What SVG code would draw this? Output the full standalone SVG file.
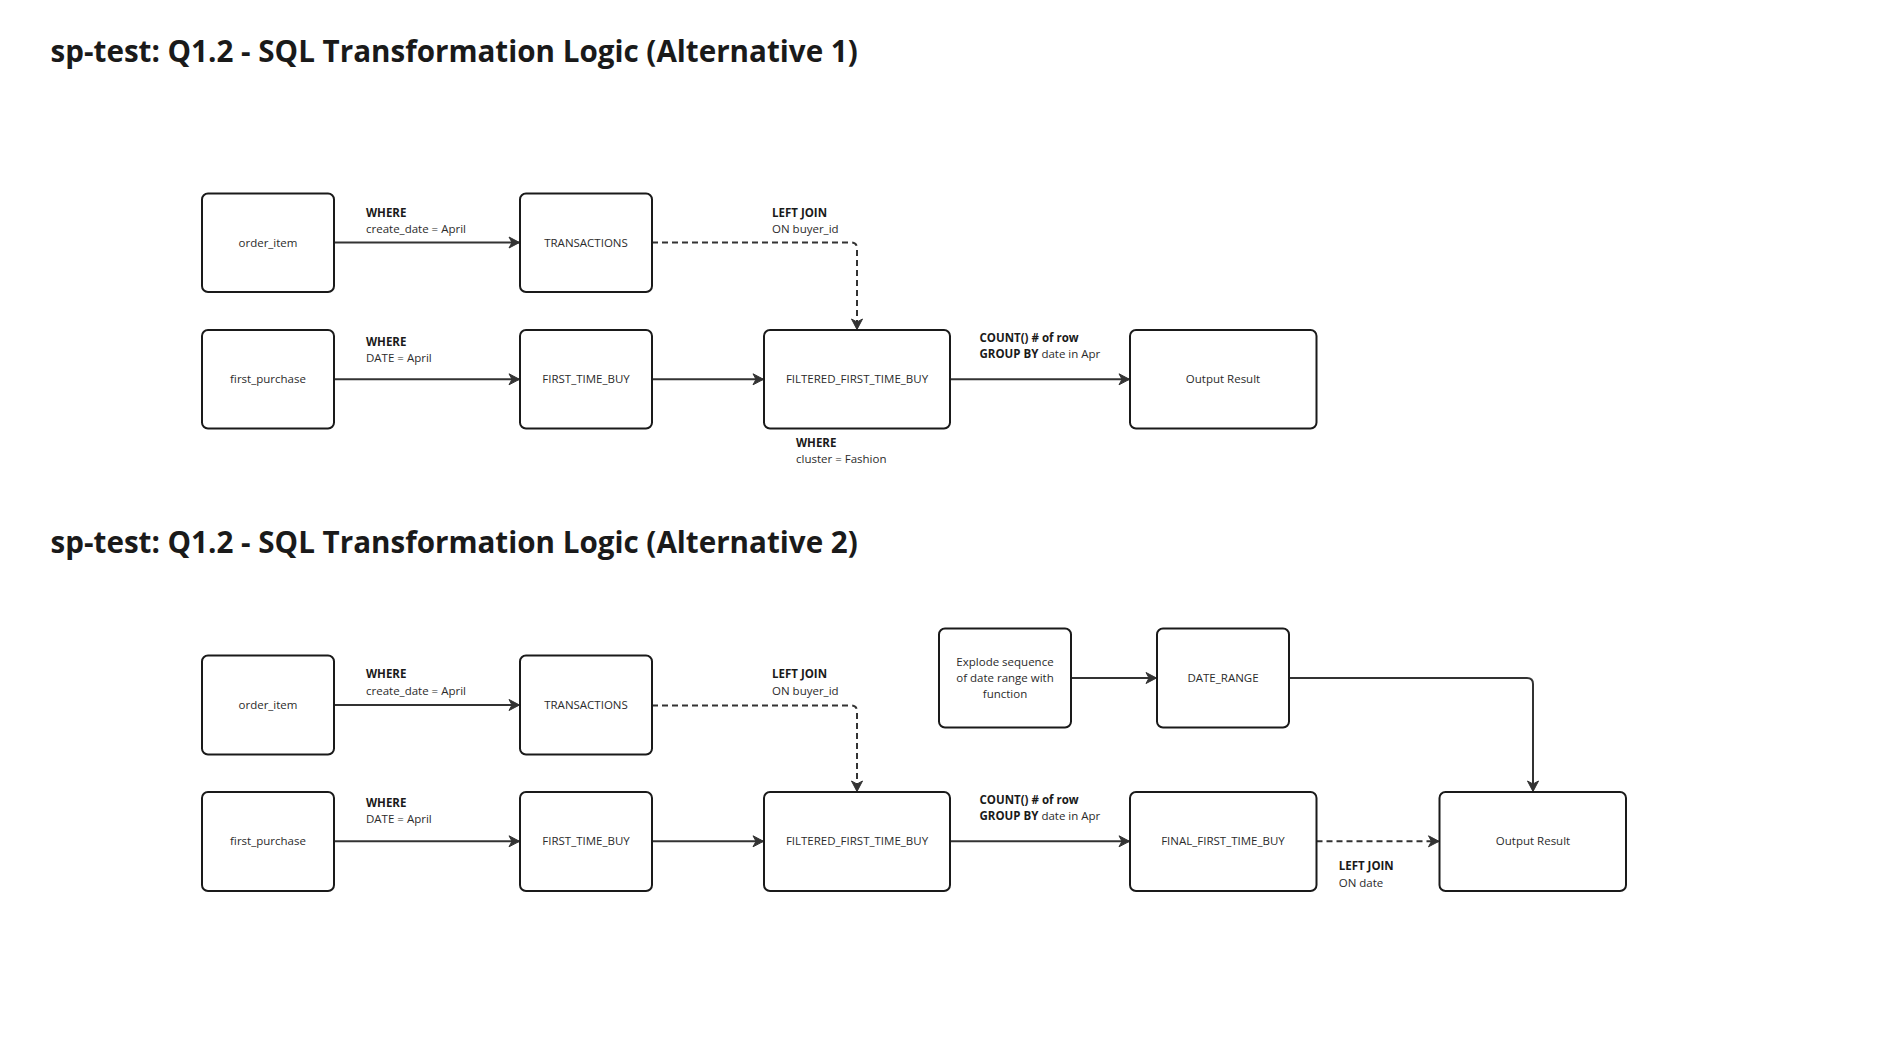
<svg xmlns="http://www.w3.org/2000/svg" width="1888" height="1061" viewBox="0 0 1888 1061">
<style>
.title{font-family:"Open Sans","Noto Sans",sans-serif;font-weight:700;font-size:29.6px;fill:#1a1a1a}
.box{fill:#ffffff;stroke:#1a1a1a;stroke-width:2}
.nt{font-family:"Open Sans","Noto Sans",sans-serif;font-size:11.5px;fill:#2b2b2b;text-anchor:middle}
.lb{font-family:"Open Sans","Noto Sans",sans-serif;font-size:11.5px;fill:#2b2b2b}
.b{font-weight:700;fill:#1a1a1a}
.c{fill:none;stroke:#333333;stroke-width:2}
.d{stroke-dasharray:6 4}
</style>
<defs>
<marker id="ah" markerUnits="userSpaceOnUse" markerWidth="14" markerHeight="14" viewBox="0 0 14 14" refX="12" refY="7" orient="auto">
<path d="M2,1.5 L12.5,7 L2,12.5 L5,7 z" fill="#333333" stroke="#333333" stroke-width="1" stroke-linejoin="round"/>
</marker>
</defs>
<rect width="1888" height="1061" fill="#ffffff"/>
<text class="title" x="50.6" y="61.7">sp-test: Q1.2 - SQL Transformation Logic (Alternative 1)</text>
<text class="title" x="50.6" y="553">sp-test: Q1.2 - SQL Transformation Logic (Alternative 2)</text>

<g id="connectors">
<path class="c" d="M334,242.5 H519" marker-end="url(#ah)"/>
<path class="c" d="M334,379.3 H519" marker-end="url(#ah)"/>
<path class="c" d="M652,379.3 H763" marker-end="url(#ah)"/>
<path class="c" d="M950,379.3 H1129" marker-end="url(#ah)"/>
<path class="c d" d="M652,242.5 H851 Q857,242.5 857,248.5 V329" marker-end="url(#ah)"/>

<path class="c" d="M334,705 H519" marker-end="url(#ah)"/>
<path class="c" d="M334,841.3 H519" marker-end="url(#ah)"/>
<path class="c" d="M652,841.3 H763" marker-end="url(#ah)"/>
<path class="c" d="M950,841.3 H1129" marker-end="url(#ah)"/>
<path class="c d" d="M652,705.5 H851 Q857,705.5 857,711.5 V791" marker-end="url(#ah)"/>
<path class="c" d="M1071,678 H1156" marker-end="url(#ah)"/>
<path class="c" d="M1289,678 H1527 Q1533,678 1533,684 V791" marker-end="url(#ah)"/>
<path class="c d" d="M1316.5,841.3 H1438.5" marker-end="url(#ah)"/>
</g>

<g id="n1"><rect class="box" x="202" y="193.5" width="132" height="98.5" rx="6"/><text class="nt" x="268" y="246.5">order_item</text></g>
<g id="n2"><rect class="box" x="520" y="193.5" width="132" height="98.5" rx="6"/><text class="nt" x="586" y="246.5">TRANSACTIONS</text></g>
<g id="n3"><rect class="box" x="202" y="330" width="132" height="98.5" rx="6"/><text class="nt" x="268" y="383.3">first_purchase</text></g>
<g id="n4"><rect class="box" x="520" y="330" width="132" height="98.5" rx="6"/><text class="nt" x="586" y="383.3">FIRST_TIME_BUY</text></g>
<g id="n5"><rect class="box" x="764" y="330" width="186" height="98.5" rx="6"/><text class="nt" x="857" y="383.3">FILTERED_FIRST_TIME_BUY</text></g>
<g id="n6"><rect class="box" x="1130" y="330" width="186.5" height="98.5" rx="6"/><text class="nt" x="1223" y="383.3">Output Result</text></g>

<g id="n7"><rect class="box" x="202" y="655.5" width="132" height="99" rx="6"/><text class="nt" x="268" y="709">order_item</text></g>
<g id="n8"><rect class="box" x="520" y="655.5" width="132" height="99" rx="6"/><text class="nt" x="586" y="709">TRANSACTIONS</text></g>
<g id="n9"><rect class="box" x="202" y="792" width="132" height="99" rx="6"/><text class="nt" x="268" y="845.3">first_purchase</text></g>
<g id="n10"><rect class="box" x="520" y="792" width="132" height="99" rx="6"/><text class="nt" x="586" y="845.3">FIRST_TIME_BUY</text></g>
<g id="n11"><rect class="box" x="764" y="792" width="186" height="99" rx="6"/><text class="nt" x="857" y="845.3">FILTERED_FIRST_TIME_BUY</text></g>
<g id="n12"><rect class="box" x="1130" y="792" width="186.5" height="99" rx="6"/><text class="nt" x="1223" y="845.3">FINAL_FIRST_TIME_BUY</text></g>
<g id="n13"><rect class="box" x="939" y="628.5" width="132" height="99" rx="6"/><text class="nt" x="1005" y="665.7">Explode sequence</text><text class="nt" x="1005" y="681.9">of date range with</text><text class="nt" x="1005" y="698">function</text></g>
<g id="n14"><rect class="box" x="1157" y="628.5" width="132" height="99" rx="6"/><text class="nt" x="1223" y="682">DATE_RANGE</text></g>
<g id="n15"><rect class="box" x="1439.5" y="792" width="186.5" height="99" rx="6"/><text class="nt" x="1533" y="845.3">Output Result</text></g>

<g id="labels">
<text class="lb" x="366" y="216.5"><tspan class="b">WHERE</tspan></text>
<text class="lb" x="366" y="232.5">create_date = April</text>
<text class="lb" x="366" y="345.7"><tspan class="b">WHERE</tspan></text>
<text class="lb" x="366" y="361.7">DATE = April</text>
<text class="lb" x="772" y="216.5"><tspan class="b">LEFT JOIN</tspan></text>
<text class="lb" x="772" y="232.5">ON buyer_id</text>
<text class="lb" x="979.5" y="341.7"><tspan class="b">COUNT() # of row</tspan></text>
<text class="lb" x="979.5" y="357.7"><tspan class="b">GROUP BY</tspan> date in Apr</text>
<text class="lb" x="796" y="446.7"><tspan class="b">WHERE</tspan></text>
<text class="lb" x="796" y="462.7">cluster = Fashion</text>

<text class="lb" x="366" y="678.3"><tspan class="b">WHERE</tspan></text>
<text class="lb" x="366" y="695">create_date = April</text>
<text class="lb" x="366" y="807.3"><tspan class="b">WHERE</tspan></text>
<text class="lb" x="366" y="823.3">DATE = April</text>
<text class="lb" x="772" y="678.3"><tspan class="b">LEFT JOIN</tspan></text>
<text class="lb" x="772" y="695">ON buyer_id</text>
<text class="lb" x="979.5" y="804"><tspan class="b">COUNT() # of row</tspan></text>
<text class="lb" x="979.5" y="820"><tspan class="b">GROUP BY</tspan> date in Apr</text>
<text class="lb" x="1338.7" y="870"><tspan class="b">LEFT JOIN</tspan></text>
<text class="lb" x="1338.7" y="886.7">ON date</text>
</g>
</svg>
